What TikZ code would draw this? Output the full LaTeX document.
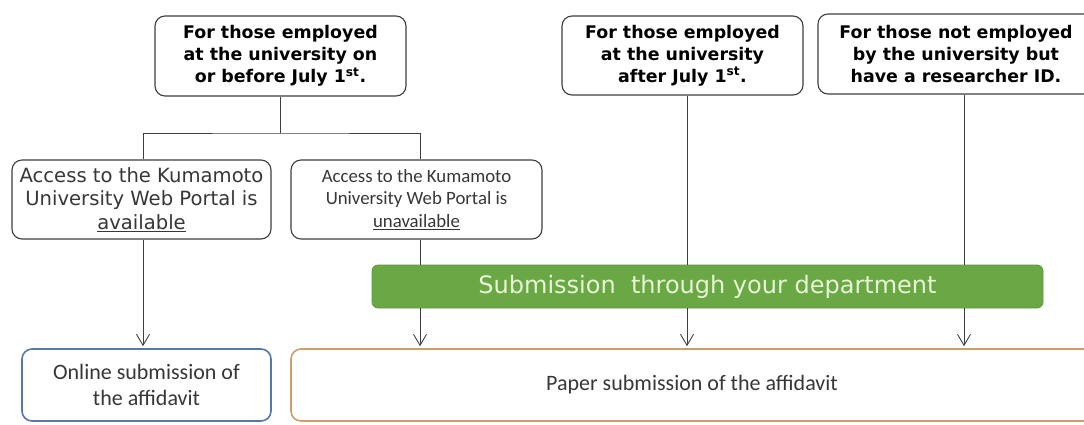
\documentclass[tikz,border=0pt]{standalone}
\usepackage{fontspec}
\usetikzlibrary{arrows.meta,calc}
\newfontfamily\vfont{DejaVu Sans}
\newfontfamily\cfont{Carlito}
\definecolor{linegray}{RGB}{62,62,62}
\definecolor{txtgray}{RGB}{55,55,55}
\definecolor{barfill}{RGB}{106,168,69}
\definecolor{barline}{RGB}{96,150,62}
\definecolor{bartext}{RGB}{232,246,214}
\definecolor{onlineblue}{RGB}{88,120,172}
\definecolor{paperorange}{RGB}{204,158,108}
\begin{document}
\begin{tikzpicture}[x=1pt,y=-1pt,
  grp/.style={draw=linegray,line width=1.1pt,rounded corners=10pt,fill=white,
    align=center,inner sep=0pt},
  headtxt/.style={font=\vfont\bfseries\fontsize{17.4}{22}\selectfont,text=black},
  portaltxt/.style={font=\vfont\fontsize{19.6}{23.5}\selectfont,text=txtgray},
  portalsm/.style={font=\cfont\fontsize{18.8}{22.5}\selectfont,text=txtgray},
  resultbox/.style={line width=1.6pt,rounded corners=10pt,fill=white,align=center,
    font=\cfont\fontsize{22}{26}\selectfont,text=txtgray,inner sep=0pt},
  conn/.style={draw=linegray,line width=0.9pt},
  arr/.style={conn,-{Straight Barb[length=11pt,width=13pt,line width=0.9pt]},shorten >=2pt}]
\useasboundingbox (0,0) rectangle (1084,424);
\clip (0,0) rectangle (1084,424);

% header boxes
\node[grp,headtxt,minimum width=251pt,minimum height=80pt] (A) at (280.5,56)
  {For those employed\\at the university on\\or before July 1\textsuperscript{st}.};
\node[grp,headtxt,minimum width=241pt,minimum height=79pt] (B) at (682.5,55.5)
  {For those employed\\at the university\\after July 1\textsuperscript{st}.};
\node[grp,headtxt,minimum width=276pt,minimum height=80pt] (C) at (956,54)
  {For those not employed\\by the university but\\have a researcher ID.};

% portal access boxes
\node[grp,portaltxt,minimum width=259pt,minimum height=79pt] (D) at (141.5,199.5)
  {Access to the Kumamoto\\University Web Portal is\\\underline{available}};
\node[grp,portalsm,minimum width=251pt,minimum height=79pt] (E) at (416.5,199.5)
  {Access to the Kumamoto\\University Web Portal is\\\underline{unavailable}};

% department bar
\node[draw=barline,fill=barfill,rounded corners=6pt,line width=0.8pt,
  minimum width=671pt,minimum height=43pt,inner sep=0pt,
  font=\vfont\fontsize{24}{28}\selectfont,text=bartext] (G) at (707.5,286.5)
  {Submission\ \ through your department};

% result boxes; the paper box runs on past the right edge
\node[resultbox,draw=onlineblue,minimum width=249pt,minimum height=72pt] (O) at (146.5,385)
  {Online submission of\\the affidavit};
\node[resultbox,draw=paperorange,minimum width=830pt,minimum height=72pt] (P) at (706,385)
  {\hspace*{-28pt}Paper submission of the affidavit};

% column positions of the connectors
\coordinate (xA) at (280,0);
\coordinate (xD) at (143,0);
\coordinate (xE) at (420,0);
\coordinate (xB) at (687,0);
\coordinate (xC) at (964,0);
\coordinate (split) at (280,133);

% branching from the first header
\draw[conn] (A.south -| xA) -- (split);
\draw[conn] (D.north -| xD) |- (split) -| (E.north -| xE);

% connectors down to the results
\draw[arr] (D.south -| xD) -- (O.north -| xD);
\draw[conn] (E.south -| xE) -- (G.north -| xE);
\draw[conn] (B.south -| xB) -- (G.north -| xB);
\draw[conn] (C.south -| xC) -- (G.north -| xC);
\draw[arr] (G.south -| xE) -- (P.north -| xE);
\draw[arr] (G.south -| xB) -- (P.north -| xB);
\draw[arr] (G.south -| xC) -- (P.north -| xC);
\end{tikzpicture}
\end{document}
